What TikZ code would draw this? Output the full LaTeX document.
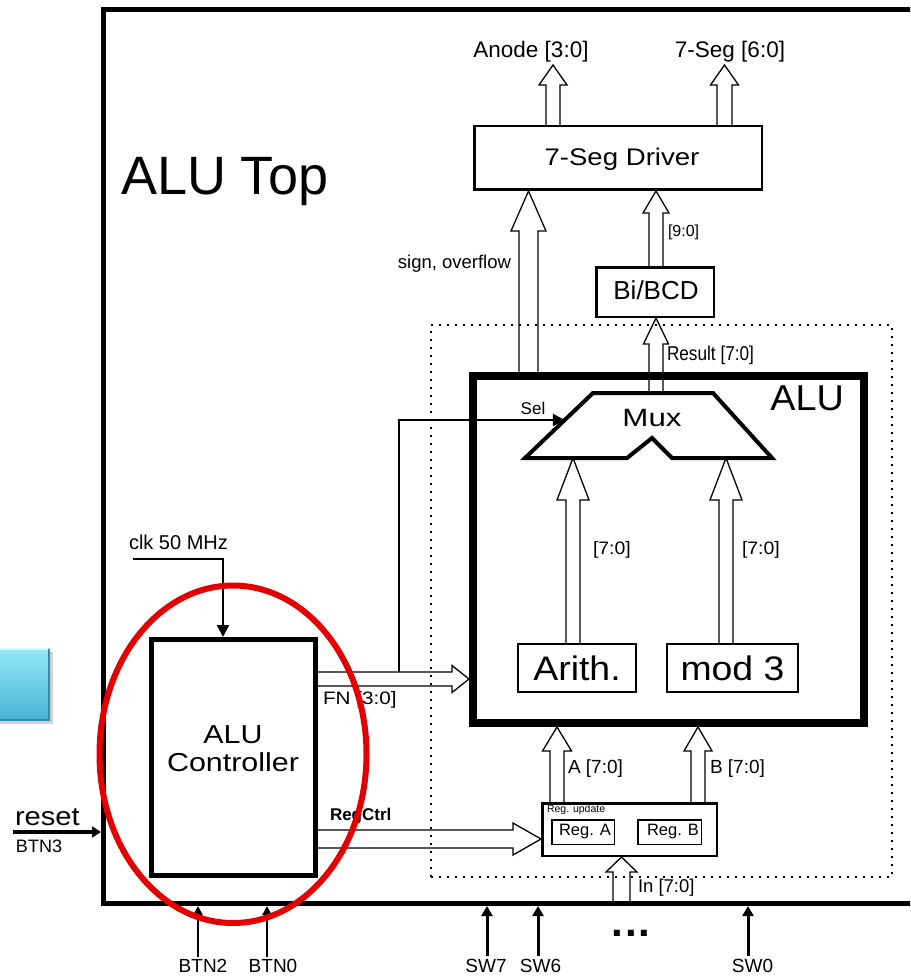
\documentclass[tikz,border=0pt]{standalone}
\usepackage{fontspec}
\setmainfont{Liberation Sans}
\usetikzlibrary{calc,arrows.meta}
\definecolor{ringred}{RGB}{228,0,0}
\definecolor{btop}{RGB}{150,232,246}
\definecolor{bbot}{RGB}{70,180,212}
\definecolor{bedge}{RGB}{55,140,165}
\newcommand\fsz[1]{\fontsize{#1}{#1}\selectfont}
% fat (hollow) arrow pointing up: base point, tip point, half shaft, half head, head length
\newcommand\fatup[5]{\draw[fatline] let \p1=#1, \p2=#2 in
  (\x2-#3,\y1) -- (\x2-#3,\y2-#5) -- (\x2-#4,\y2-#5) -- (\x2,\y2) -- (\x2+#4,\y2-#5) -- (\x2+#3,\y2-#5) -- (\x2+#3,\y1);}
% fat (hollow) arrow pointing right
\newcommand\fatright[5]{\draw[fatline] let \p1=#1, \p2=#2 in
  (\x1,\y2+#3) -- (\x2-#5,\y2+#3) -- (\x2-#5,\y2+#4) -- (\x2,\y2) -- (\x2-#5,\y2-#4) -- (\x2-#5,\y2-#3) -- (\x1,\y2-#3);}
\begin{document}
\begin{tikzpicture}[x=1pt,y=-1pt,
  blk/.style={draw, inner sep=0pt},
  fatline/.style={draw, line width=1.3pt, line join=miter},
  lbl/.style={inner sep=0pt, outer sep=0pt},
  sigarrow/.style={line width=2.5pt, -{Triangle[length=12pt,width=12pt]}},
  inarrow/.style={line width=3pt, -{Triangle[length=10pt,width=11pt]}},
  btnarrow/.style={line width=2.5pt, -{Triangle[length=9pt,width=9pt]}}]
\clip (0,0) rectangle (910,976);

% blue tab at left
\fill[black!18] (-10,652) rectangle (53,724);
\shade[top color=btop, bottom color=bbot] (-10,648) rectangle (50,720);
\draw[bedge, line width=2pt] (49,649) -- (49,720) -- (-10,720);
\draw[white!70!btop, line width=1.5pt] (-10,649) -- (48,649);

% outer box
\node[blk, line width=5pt, minimum width=821.5pt, minimum height=893.5pt] (top) at (514.25,456.75) {};
\node[lbl, anchor=base west] (toptitle) at (121,195) {\fsz{54}ALU Top};

% dotted region
\node[blk, line width=2pt, dash pattern=on 2pt off 6pt, minimum width=461pt, minimum height=552pt] (dotbox) at (661.5,601) {};

% ALU box
\node[blk, line width=8pt, minimum width=391pt, minimum height=347.5pt] (alu) at (668.5,549.25) {};
\node[lbl, anchor=base east] (alulbl) at (844,410) {\fsz{36}\scalebox{1.05}[1]{ALU}};

% 7-seg driver
\node[blk, line width=2.5pt, minimum width=287.5pt, minimum height=63.5pt] (drv) at (618,158) {};
\node[lbl, anchor=base] (drvtxt) at (622,166) {\fsz{24}\scalebox{1.15}[1]{7-Seg Driver}};

% Bi/BCD
\node[blk, line width=2.5pt, minimum width=117.5pt, minimum height=49.5pt] (bcd) at (655,292) {};
\node[lbl, anchor=base] (bcdtxt) at (656,299) {\fsz{26}Bi/BCD};

% Arith / mod 3
\node[blk, line width=2pt, minimum width=118pt, minimum height=48pt] (arith) at (577,668) {\fsz{34}\scalebox{1.1}[1]{Arith.}};
\node[blk, line width=2pt, minimum width=131pt, minimum height=48pt] (mod3) at (732.5,668) {\fsz{34}\scalebox{1.1}[1]{mod 3}};

% controller
\node[blk, line width=5pt, minimum width=163.5pt, minimum height=236pt] (ctrl) at (233.25,757.5) {};
\node[lbl] (ctrltxt) at (233,751.5) {\scalebox{1.17}[1]{\fontsize{26}{28}\selectfont\begin{tabular}{@{}c@{}}ALU\\Controller\end{tabular}}};

% register update
\node[blk, line width=2.5pt, minimum width=174.5pt, minimum height=52.5pt] (regu) at (629.5,829.5) {};
\node[lbl, anchor=west] (regutxt) at (547,810) {\fsz{10.5}Reg. update};
\node[blk, line width=1.5pt, minimum width=62.5pt, minimum height=24.5pt] (rega) at (583,832) {};
\node[blk, line width=1.5pt, minimum width=63.5pt, minimum height=24.5pt] (regb) at (669.5,832) {};
\node[lbl, anchor=east] (regatxt) at (611,832) {\fsz{16.5}Reg. A};
\node[lbl, anchor=east] (regbtxt) at (699,832) {\fsz{16.5}Reg. B};

% Mux
\coordinate (mtl) at (593,393);
\coordinate (mtr) at (713,393);
\coordinate (mbr) at (772,458);
\coordinate (mn1) at (672,458);
\coordinate (mpk) at (652,438);
\coordinate (mn2) at (627,458);
\coordinate (mbl) at (525,458);
\draw[line width=4pt, line join=miter] (mtl) -- (mtr) -- (mbr) -- (mn1) -- (mpk) -- (mn2) -- (mbl) -- cycle;
\node[lbl, anchor=base] (muxtxt) at (652,426) {\fsz{25}\scalebox{1.25}[1]{Mux}};

% top outputs
\coordinate (anodeTip) at (553,65);
\coordinate (segTip) at (724.5,65);
\fatup{(drv.north -| anodeTip)}{(anodeTip)}{7pt}{14pt}{20pt}
\fatup{(drv.north -| segTip)}{(segTip)}{7.5pt}{14pt}{20pt}
\node[lbl, anchor=base] (anode) at (531,58) {\fsz{22.5}Anode [3:0]};
\node[lbl, anchor=base] (seg) at (730,58) {\fsz{22.5}7-Seg [6:0]};

% sign, overflow
\coordinate (sgx) at (528.5,0);
\fatup{(alu.north -| sgx)}{(drv.south -| sgx)}{9.5pt}{17.5pt}{40pt}
\node[lbl, anchor=base east] (sgtxt) at (511,268) {\fsz{18.5}sign, overflow};

% BCD -> driver
\coordinate (bx) at (656,0);
\fatup{(bcd.north -| bx)}{(drv.south -| bx)}{7pt}{13pt}{22pt}
\node[lbl, anchor=west] (b90) at (668,232) {\fsz{16}[9:0]};

% Result
\fatup{(mtl -| bx)}{(bcd.south -| bx)}{7pt}{12.5pt}{26pt}
\node[lbl, anchor=west] (restxt) at (667,355) {\fsz{20}\scalebox{0.86}[1]{Result [7:0]}};

% Arith / mod3 -> Mux
\coordinate (arx) at (573,0);
\coordinate (mdx) at (726,0);
\fatup{(arith.north -| arx)}{(mbl -| arx)}{7pt}{16pt}{42pt}
\fatup{(mod3.north -| mdx)}{(mbl -| mdx)}{7pt}{16pt}{42pt}
\node[lbl, anchor=west] (a70) at (593,550) {\fsz{18}\scalebox{1.08}[1]{[7:0]}};
\node[lbl, anchor=west] (m70) at (742,550) {\fsz{18}\scalebox{1.08}[1]{[7:0]}};

% A, B -> ALU
\coordinate (ax) at (557,0);
\coordinate (bbx) at (698,0);
\fatup{(regu.north -| ax)}{(alu.south -| ax)}{7pt}{14.5pt}{24pt}
\fatup{(regu.north -| bbx)}{(alu.south -| bbx)}{7pt}{14pt}{24pt}
\node[lbl, anchor=west] (atxt) at (568,769) {\fsz{19}A [7:0]};
\node[lbl, anchor=west] (btxt) at (710,769) {\fsz{19}B [7:0]};

% In -> Reg update
\coordinate (inx) at (621.5,0);
\fatup{(top.south -| inx)}{(regu.south -| inx)}{8.5pt}{15.5pt}{15pt}
\node[lbl, anchor=west] (intxt) at (638,888) {\fsz{18.5}In [7:0]};

% FN and RegCtrl
\coordinate (fny) at (0,679);
\coordinate (rcy) at (0,839);
\fatright{(ctrl.east |- fny)}{(alu.west |- fny)}{7pt}{13.5pt}{17pt}
\fatright{(ctrl.east |- rcy)}{(regu.west |- rcy)}{9pt}{16pt}{28pt}
\node[lbl, anchor=west] (fntxt) at (323,700) {\fsz{18}\scalebox{1.15}[1]{FN [3:0]}};
\node[lbl, anchor=west] (rctxt) at (330,816) {\fsz{17}\bfseries RegCtrl};

% Sel
\coordinate (fntap) at (399,672);
\coordinate (seltip) at ($(mbl)!0.585!(mtl)$);
\draw[sigarrow] (fntap) |- (seltip);
\node[lbl] (seltxt) at (533,408) {\fsz{17}Sel};

% clk
\coordinate (clk) at (133,559);
\coordinate (clkx) at (223,0);
\draw[sigarrow] (clk) -| (ctrl.north -| clkx);
\node[lbl, anchor=west] (clktxt) at (129,542) {\fsz{20}clk 50 MHz};

% reset
\coordinate (rst) at (13,832);
\draw[line width=4pt, -{Triangle[length=9pt,width=11pt]}] (rst) -- (top.west |- rst);
\node[lbl, anchor=base west] (rsttxt) at (15,825) {\fsz{26}\scalebox{1.12}[1]{reset}};
\node[lbl, anchor=west] (btn3) at (16,846) {\fsz{18}BTN3};

% switches
\node[lbl, anchor=north] (sw7) at (486,959) {\fsz{19}SW7};
\node[lbl, anchor=north] (sw6) at (540.5,959) {\fsz{19}SW6};
\node[lbl, anchor=north] (sw0) at (752.5,959) {\fsz{19}SW0};
\coordinate (sw7x) at (487,956);
\coordinate (sw6x) at (538,956);
\coordinate (sw0x) at (748,956);
\draw[inarrow] (sw7x) -- (top.south -| sw7x);
\draw[inarrow] (sw6x) -- (top.south -| sw6x);
\draw[inarrow] (sw0x) -- (top.south -| sw0x);
\node[lbl] (dots) at (631,933) {\fsz{42}\bfseries .\kern1.8pt.\kern1.8pt.};

% buttons
\node[lbl, anchor=north] (btn2) at (203,959) {\fsz{19}BTN2};
\node[lbl, anchor=north] (btn0) at (273,959) {\fsz{19}BTN0};
\coordinate (b2x) at (198,957);
\coordinate (b0x) at (267,957);
\draw[btnarrow] (b2x) -- (top.south -| b2x);
\draw[btnarrow] (b0x) -- (top.south -| b0x);

% red highlight ring
\draw[ringred, line width=6pt] (233,754.25) ellipse [x radius=133.5pt, y radius=168.75pt];
\end{tikzpicture}
\end{document}
